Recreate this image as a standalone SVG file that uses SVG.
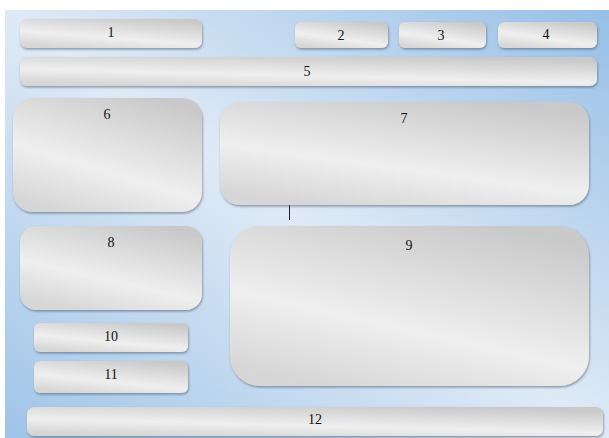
<svg xmlns="http://www.w3.org/2000/svg" width="609" height="438" viewBox="0 0 609 438">
<defs>
<linearGradient id="bg" x1="1" y1="0" x2="0" y2="1">
<stop offset="0" stop-color="#97bfe6"/>
<stop offset="0.5" stop-color="#dfeaf6"/>
<stop offset="1" stop-color="#9fc4e8"/>
</linearGradient>
<linearGradient id="box" x1="0.75" y1="0" x2="0.25" y2="1">
<stop offset="0" stop-color="#c9c9c9"/>
<stop offset="0.62" stop-color="#efefef"/>
<stop offset="1" stop-color="#d6d6d6"/>
</linearGradient>
<filter id="sh" x="-5%" y="-10%" width="110%" height="125%">
<feDropShadow dx="0.8" dy="1.6" stdDeviation="0.9" flood-color="#4a5a6a" flood-opacity="0.55"/>
</filter>
</defs>
<style>
.n{fill:url(#box);filter:url(#sh)}
.t{font-family:"Liberation Serif",serif;font-size:14px;fill:#111;text-anchor:middle}
.c{stroke:#222;stroke-width:1;fill:none}
</style>
<rect x="0" y="0" width="609" height="438" fill="#ffffff"/>
<rect x="5" y="10" width="604" height="428" fill="url(#bg)"/>
<g id="connectors">
<line class="c" x1="289.5" y1="205" x2="289.5" y2="220"/>
</g>
<g id="n1"><rect class="n" x="20" y="19" width="182" height="29" rx="7"/><text class="t" x="111" y="37">1</text></g>
<g id="n2"><rect class="n" x="295" y="22" width="93" height="26" rx="6"/><text class="t" x="341" y="40">2</text></g>
<g id="n3"><rect class="n" x="399" y="22" width="87" height="26" rx="6"/><text class="t" x="441" y="40">3</text></g>
<g id="n4"><rect class="n" x="498" y="22" width="99" height="26" rx="6"/><text class="t" x="546" y="39">4</text></g>
<g id="n5"><rect class="n" x="20" y="57" width="577" height="29" rx="7"/><text class="t" x="307" y="76">5</text></g>
<g id="n6"><rect class="n" x="13" y="98" width="189" height="114" rx="20"/><text class="t" x="107" y="119">6</text></g>
<g id="n7"><rect class="n" x="220" y="102" width="369" height="103" rx="20"/><text class="t" x="404" y="123">7</text></g>
<g id="n8"><rect class="n" x="20" y="226" width="182" height="84" rx="16"/><text class="t" x="111" y="247">8</text></g>
<g id="n9"><rect class="n" x="230" y="226" width="359" height="160" rx="30"/><text class="t" x="409" y="250">9</text></g>
<g id="n10"><rect class="n" x="34" y="323" width="154" height="29" rx="6"/><text class="t" x="111" y="341">10</text></g>
<g id="n11"><rect class="n" x="34" y="361" width="154" height="32" rx="6"/><text class="t" x="111" y="379">11</text></g>
<g id="n12"><rect class="n" x="27" y="407" width="576" height="29" rx="7"/><text class="t" x="315" y="424">12</text></g>
</svg>
